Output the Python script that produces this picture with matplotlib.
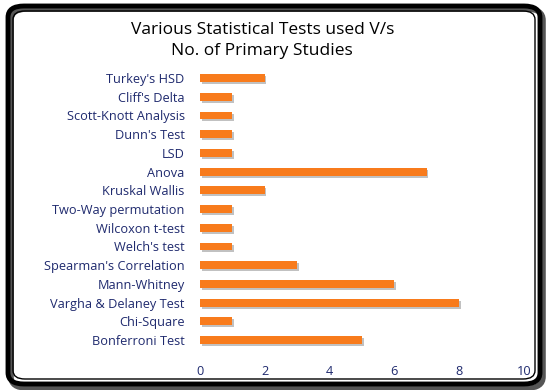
import matplotlib
matplotlib.use("Agg")
import matplotlib.pyplot as plt
from matplotlib.patches import FancyBboxPatch
import matplotlib.patheffects as pe

categories = ["Turkey's HSD", "Cliff's Delta", "Scott-Knott Analysis", "Dunn's Test", "LSD",
              "Anova", "Kruskal Wallis", "Two-Way permutation", "Wilcoxon t-test", "Welch's test",
              "Spearman's Correlation", "Mann-Whitney", "Vargha & Delaney Test", "Chi-Square",
              "Bonferroni Test"]
values = [2, 1, 1, 1, 1, 7, 2, 1, 1, 1, 3, 6, 8, 1, 5]
xticks = [0, 2, 4, 6, 8, 10]

plt.rcParams['font.family'] = ['Open Sans', 'DejaVu Sans']
W, H = 550, 390
fig = plt.figure(figsize=(5.5, 3.9), dpi=100)
fig.patch.set_facecolor('white')

def box(x0, y0, x1, y1, lw, r, color='black', z=0):
    p = FancyBboxPatch((x0 / W, 1 - y1 / H), (x1 - x0) / W, (y1 - y0) / H,
                       boxstyle=f"round,pad=0,rounding_size={r / W}",
                       transform=fig.transFigure, fill=False, lw=lw, ec=color, zorder=z)
    fig.add_artist(p)
    return p

box(11, 9, 543, 388, 4.0, 16, color='#555555')
box(8, 6, 540, 384, 3.5, 16)
box(13, 11, 535, 379, 1.0, 12)

ax = fig.add_axes([200 / W, 1 - 349.4 / H, 324 / W, (349.4 - 68.7) / H])
ypos = list(range(len(categories)))
ax.barh(ypos, values, height=0.42, color='#F87B1C', zorder=3,
        path_effects=[pe.SimplePatchShadow(offset=(1.2, -1.5), shadow_rgbFace='#999999', alpha=0.6),
                      pe.Normal()])
ax.set_ylim(len(categories) - 0.5, -0.5)
ax.set_xlim(0, 10)
ax.set_xticks(xticks)
ax.set_yticks(ypos)
ax.set_yticklabels(categories, fontsize=9.2, color='#1F2A6E')
ax.tick_params(axis='x', labelsize=9.2, colors='#1F2A6E', length=0, pad=11)
ax.tick_params(axis='y', length=0, pad=11)
for s in ax.spines.values():
    s.set_visible(False)

fig.text(0.477, 1 - 30 / H, "Various Statistical Tests used V/s", ha='center', va='center',
         fontsize=12.5, color='black')
fig.text(0.477, 1 - 51 / H, "No. of Primary Studies", ha='center', va='center',
         fontsize=12.5, color='black')

fig.savefig("out.png", dpi=100)
